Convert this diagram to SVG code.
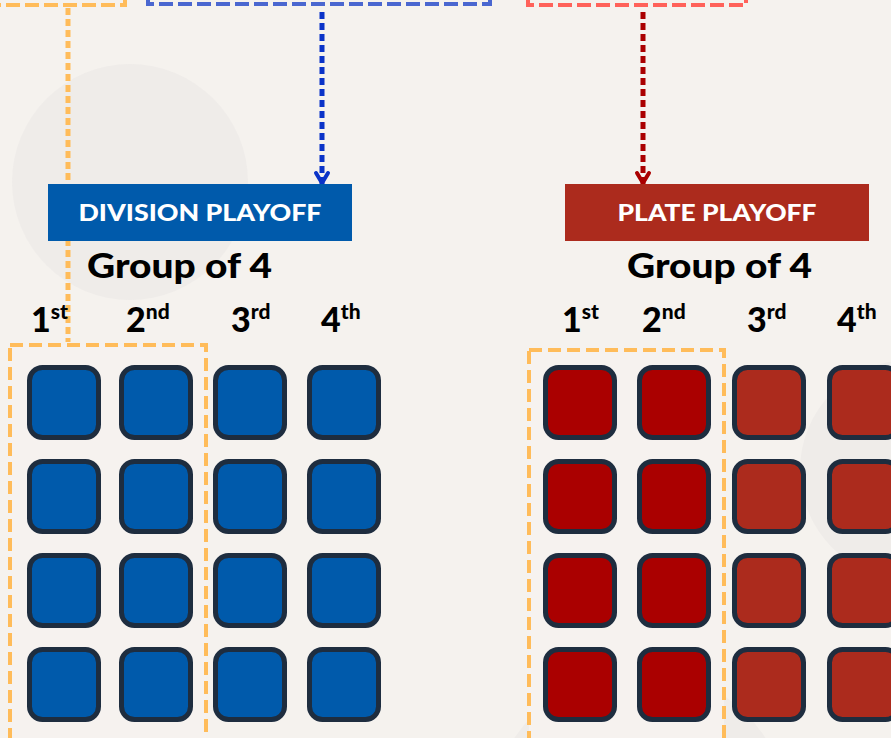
<svg xmlns="http://www.w3.org/2000/svg" width="891" height="738" viewBox="0 0 891 738">
<defs>
<style>
.bg{fill:#f5f2ee}
.ghost{fill:#8a8f99;opacity:0.05}
.topbox{fill:none;stroke-width:4;stroke-dasharray:14 5}
.sel{fill:#f6f2ef;stroke:#ffbc5a;stroke-width:4;stroke-dasharray:13 6}
.hdr{font-family:Lato,"Noto Sans",sans-serif;font-weight:900;fill:#ffffff;font-size:23px}
.grp{font-family:Lato,"Noto Sans",sans-serif;font-weight:900;fill:#000;font-size:34px}
.ord{font-family:Lato,"Noto Sans",sans-serif;font-weight:900;fill:#000;font-size:34px}
.sup{font-size:21px}
.sq{stroke:#1e2d3f;stroke-width:5}
.blue{fill:#005aab}
.redA{fill:#aa0000}
.redB{fill:#ac2b1d}
.dot{fill:none;stroke-width:5;stroke-dasharray:7 4}
</style>
<marker id="arrB" viewBox="0 0 16 18" refX="14" refY="9" markerWidth="16" markerHeight="18" markerUnits="userSpaceOnUse" orient="auto">
<path d="M3 3 L13 9 L3 15" fill="none" stroke="#0a33c8" stroke-width="4" stroke-linecap="round" stroke-linejoin="round"/>
</marker>
<marker id="arrR" viewBox="0 0 16 18" refX="14" refY="9" markerWidth="16" markerHeight="18" markerUnits="userSpaceOnUse" orient="auto">
<path d="M3 3 L13 9 L3 15" fill="none" stroke="#aa0000" stroke-width="4" stroke-linecap="round" stroke-linejoin="round"/>
</marker>
</defs>
<rect class="bg" x="0" y="0" width="891" height="738"/>
<circle class="ghost" cx="130" cy="182" r="118"/>
<circle class="ghost" cx="910" cy="470" r="110"/>
<circle class="ghost" cx="640" cy="820" r="150"/>

<g id="top-boxes">
<rect class="topbox" x="-10" y="-40" width="135" height="45" stroke="#ffbc5a"/>
<rect class="topbox" x="148" y="-40" width="342" height="44" stroke="#4a67d0"/>
<rect class="topbox" x="528" y="-40" width="218" height="45" stroke="#ff625a"/>
</g>

<g id="connectors">
<line x1="68" y1="8" x2="68" y2="342" class="dot" stroke="#ffbc5a" stroke-dasharray="8 5"/>
<line x1="322" y1="12" x2="322" y2="184" class="dot" stroke="#0a33c8" marker-end="url(#arrB)"/>
<line x1="643" y1="12" x2="643" y2="184" class="dot" stroke="#aa0000" marker-end="url(#arrR)"/>
</g>

<g id="division-playoff">
<rect x="48" y="184" width="304" height="57" fill="#005aab"/>
<text class="hdr" x="200" y="221" text-anchor="middle" textLength="243" lengthAdjust="spacingAndGlyphs">DIVISION PLAYOFF</text>
</g>
<g id="plate-playoff">
<rect x="565" y="184" width="304" height="57" fill="#ac2b1d"/>
<text class="hdr" x="717" y="221" text-anchor="middle" textLength="199" lengthAdjust="spacingAndGlyphs">PLATE PLAYOFF</text>
</g>

<g id="division-group">
<text class="grp" x="87" y="278" textLength="185" lengthAdjust="spacingAndGlyphs">Group of 4</text>
<text class="ord" x="31" y="332">1<tspan class="sup" dy="-13">st</tspan></text>
<text class="ord" x="126" y="332">2<tspan class="sup" dy="-13">nd</tspan></text>
<text class="ord" x="231" y="332">3<tspan class="sup" dy="-13">rd</tspan></text>
<text class="ord" x="321" y="332">4<tspan class="sup" dy="-13">th</tspan></text>
<rect class="sel" x="10" y="345" width="196" height="420"/>
<g id="div-teams">
<rect class="sq blue" x="29.5" y="367.5" width="69" height="70" rx="13"/>
<rect class="sq blue" x="121.5" y="367.5" width="69" height="70" rx="13"/>
<rect class="sq blue" x="215.5" y="367.5" width="69" height="70" rx="13"/>
<rect class="sq blue" x="309.5" y="367.5" width="69" height="70" rx="13"/>
<rect class="sq blue" x="29.5" y="461.5" width="69" height="70" rx="13"/>
<rect class="sq blue" x="121.5" y="461.5" width="69" height="70" rx="13"/>
<rect class="sq blue" x="215.5" y="461.5" width="69" height="70" rx="13"/>
<rect class="sq blue" x="309.5" y="461.5" width="69" height="70" rx="13"/>
<rect class="sq blue" x="29.5" y="555.5" width="69" height="70" rx="13"/>
<rect class="sq blue" x="121.5" y="555.5" width="69" height="70" rx="13"/>
<rect class="sq blue" x="215.5" y="555.5" width="69" height="70" rx="13"/>
<rect class="sq blue" x="309.5" y="555.5" width="69" height="70" rx="13"/>
<rect class="sq blue" x="29.5" y="649.5" width="69" height="70" rx="13"/>
<rect class="sq blue" x="121.5" y="649.5" width="69" height="70" rx="13"/>
<rect class="sq blue" x="215.5" y="649.5" width="69" height="70" rx="13"/>
<rect class="sq blue" x="309.5" y="649.5" width="69" height="70" rx="13"/>
</g>
</g>

<g id="plate-group">
<text class="grp" x="627" y="278" textLength="185" lengthAdjust="spacingAndGlyphs">Group of 4</text>
<text class="ord" x="562" y="332">1<tspan class="sup" dy="-13">st</tspan></text>
<text class="ord" x="642" y="332">2<tspan class="sup" dy="-13">nd</tspan></text>
<text class="ord" x="747" y="332">3<tspan class="sup" dy="-13">rd</tspan></text>
<text class="ord" x="837" y="332">4<tspan class="sup" dy="-13">th</tspan></text>
<rect class="sel" x="529" y="350" width="195" height="420"/>
<g id="plate-teams">
<rect class="sq redA" x="545.5" y="367.5" width="69" height="70" rx="13"/>
<rect class="sq redA" x="639.5" y="367.5" width="69" height="70" rx="13"/>
<rect class="sq redB" x="734.5" y="367.5" width="69" height="70" rx="13"/>
<rect class="sq redB" x="829.5" y="367.5" width="69" height="70" rx="13"/>
<rect class="sq redA" x="545.5" y="461.5" width="69" height="70" rx="13"/>
<rect class="sq redA" x="639.5" y="461.5" width="69" height="70" rx="13"/>
<rect class="sq redB" x="734.5" y="461.5" width="69" height="70" rx="13"/>
<rect class="sq redB" x="829.5" y="461.5" width="69" height="70" rx="13"/>
<rect class="sq redA" x="545.5" y="555.5" width="69" height="70" rx="13"/>
<rect class="sq redA" x="639.5" y="555.5" width="69" height="70" rx="13"/>
<rect class="sq redB" x="734.5" y="555.5" width="69" height="70" rx="13"/>
<rect class="sq redB" x="829.5" y="555.5" width="69" height="70" rx="13"/>
<rect class="sq redA" x="545.5" y="649.5" width="69" height="70" rx="13"/>
<rect class="sq redA" x="639.5" y="649.5" width="69" height="70" rx="13"/>
<rect class="sq redB" x="734.5" y="649.5" width="69" height="70" rx="13"/>
<rect class="sq redB" x="829.5" y="649.5" width="69" height="70" rx="13"/>
</g>
</g>
</svg>
